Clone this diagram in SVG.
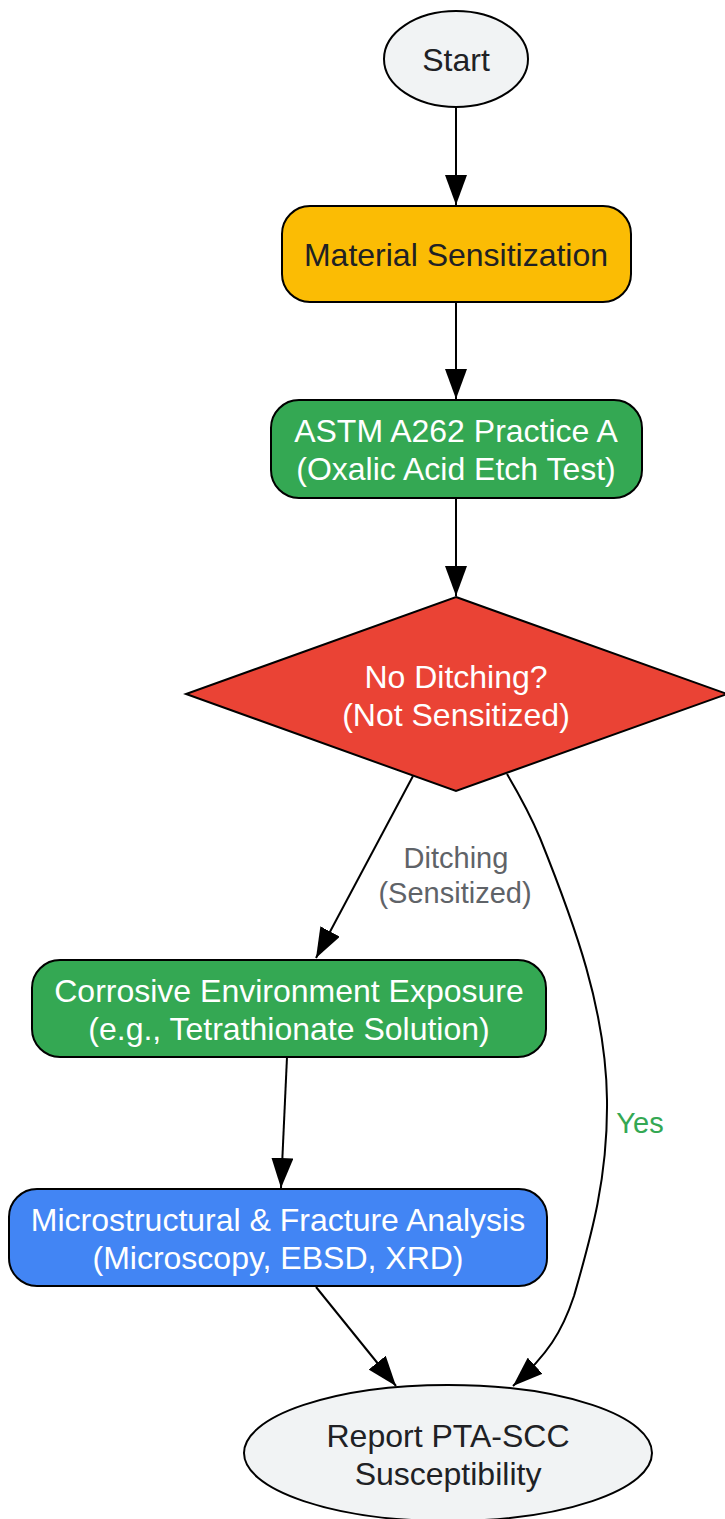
<svg xmlns="http://www.w3.org/2000/svg" width="725" height="1519" viewBox="0 0 725 1519">
<style>
.node{stroke:#000;stroke-width:2}
.t{font-family:"Liberation Sans",Arial,sans-serif;font-size:32px;text-anchor:middle}
.dark{fill:#202124}
.light{fill:#ffffff}
.edge{fill:none;stroke:#000;stroke-width:2}
.el{font-family:"Liberation Sans",Arial,sans-serif;font-size:29px;text-anchor:middle}
</style>
<defs>
<marker id="arrow" markerUnits="userSpaceOnUse" viewBox="0 0 30 22" refX="30" refY="11" markerWidth="30" markerHeight="22" orient="auto">
<path d="M0,0 L30,11 L0,22 z" fill="#000"/>
</marker>
</defs>
<rect width="725" height="1519" fill="#ffffff"/>
<g id="edges">
<path class="edge" d="M456,107 L456,205" marker-end="url(#arrow)"/>
<path class="edge" d="M456,302 L456,399" marker-end="url(#arrow)"/>
<path class="edge" d="M456,498 L456,596" marker-end="url(#arrow)"/>
<path class="edge" d="M413,776 L316,958" marker-end="url(#arrow)"/>
<path class="edge" d="M507,774 C520,796 530,814 540,838 C575,925 606,1010 607,1100 C608,1180 590,1240 574,1296 C562,1332 548,1354 513,1386" marker-end="url(#arrow)"/>
<path class="edge" d="M287,1057 L281,1188" marker-end="url(#arrow)"/>
<path class="edge" d="M316,1287 L396,1386" marker-end="url(#arrow)"/>
<text class="el" x="456" y="868" fill="#5f6368">Ditching</text>
<text class="el" x="455" y="903" fill="#5f6368">(Sensitized)</text>
<text class="el" x="640" y="1133" fill="#34A853">Yes</text>
</g>
<g id="start">
<ellipse class="node" cx="456" cy="59" rx="72" ry="48" fill="#F1F3F4"/>
<text class="t dark" x="456" y="71">Start</text>
</g>
<g id="sensitization">
<rect class="node" x="282" y="206" width="349" height="96" rx="28" fill="#FBBC04"/>
<text class="t dark" x="456" y="266">Material Sensitization</text>
</g>
<g id="astm">
<rect class="node" x="271" y="400" width="371" height="98" rx="28" fill="#34A853"/>
<text class="t light" x="456" y="442">ASTM A262 Practice A</text>
<text class="t light" x="456" y="480">(Oxalic Acid Etch Test)</text>
</g>
<g id="decision">
<polygon class="node" points="456,597 727,694 456,791 186,694" fill="#EA4335"/>
<text class="t light" x="456" y="688">No Ditching?</text>
<text class="t light" x="456" y="726">(Not Sensitized)</text>
</g>
<g id="corrosive">
<rect class="node" x="32" y="960" width="514" height="97" rx="28" fill="#34A853"/>
<text class="t light" x="289" y="1002">Corrosive Environment Exposure</text>
<text class="t light" x="289" y="1040">(e.g., Tetrathionate Solution)</text>
</g>
<g id="analysis">
<rect class="node" x="9" y="1189" width="538" height="97" rx="28" fill="#4285F4"/>
<text class="t light" x="278" y="1231">Microstructural &amp; Fracture Analysis</text>
<text class="t light" x="278" y="1269">(Microscopy, EBSD, XRD)</text>
</g>
<g id="report">
<ellipse class="node" cx="448" cy="1453" rx="204" ry="68" fill="#F1F3F4"/>
<text class="t dark" x="448" y="1447">Report PTA-SCC</text>
<text class="t dark" x="448" y="1485">Susceptibility</text>
</g>
</svg>
